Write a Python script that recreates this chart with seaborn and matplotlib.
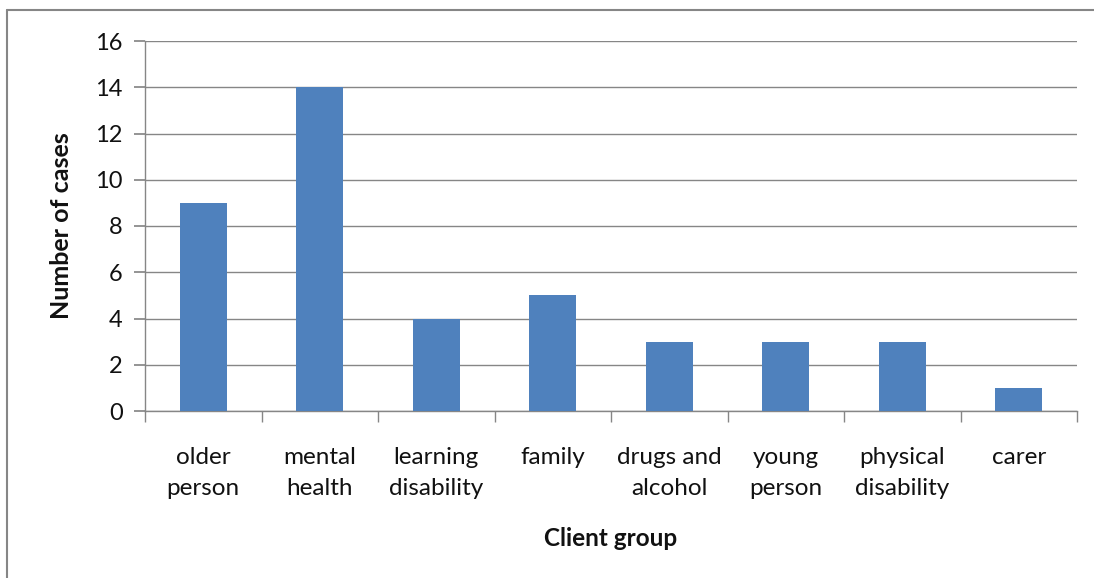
import matplotlib
matplotlib.use("Agg")
import matplotlib.pyplot as plt
import seaborn as sns
import pandas as pd
from matplotlib.lines import Line2D

categories = ["older\nperson", "mental\nhealth", "learning\ndisability", "family",
              "drugs and\nalcohol", "young\nperson", "physical\ndisability", "carer"]
cases = [9, 14, 4, 5, 3, 3, 3, 1]
y_ticks = [0, 2, 4, 6, 8, 10, 12, 14, 16]

sns.set_theme(style="white")
plt.rcParams['font.family'] = ['Lato', 'DejaVu Sans']

fig = plt.figure(figsize=(10.94, 5.78), dpi=100)
ax = fig.add_axes([145/1094, 1 - 411/578, (1077-145)/1094, (411-41)/578])

df = pd.DataFrame({"group": categories, "cases": cases})
sns.barplot(data=df, x="group", y="cases", color="#4F81BD", saturation=1,
            width=0.40, ax=ax, zorder=3, linewidth=0)

ax.set_ylim(0, 16)
ax.set_xlim(-0.5, len(categories) - 0.5)
ax.set_yticks(y_ticks)
ax.yaxis.grid(True, color="#868686", linewidth=1, zorder=0)
ax.set_axisbelow(True)

for s in ["top", "right"]:
    ax.spines[s].set_visible(False)
for s in ["left", "bottom"]:
    ax.spines[s].set_color("#868686")
    ax.spines[s].set_linewidth(1)

ax.tick_params(axis="y", which="major", left=True, length=8, color="#868686",
               labelsize=17, labelcolor="#111111", pad=8)
ax.tick_params(axis="x", which="major", bottom=False, labelsize=17.5,
               labelcolor="#111111", pad=20)
ax.set_xticks(range(len(categories)))
ax.set_xticklabels(categories, linespacing=1.6)
ax.set_xticks([i - 0.5 for i in range(len(categories) + 1)], minor=True)
ax.tick_params(axis="x", which="minor", bottom=True, length=8, color="#868686")

ax.set_xlabel("Client group", fontsize=17.5, fontweight="bold", labelpad=20, color="#111111")
ax.set_ylabel("Number of cases", fontsize=18, fontweight="bold", labelpad=16, color="#111111")

# chart-area border (left and top visible)
fig.add_artist(Line2D([7/1094, 7/1094], [0, 1 - 10/578], transform=fig.transFigure,
                      color="#868686", linewidth=1.5))
fig.add_artist(Line2D([7/1094, 1], [1 - 10/578, 1 - 10/578], transform=fig.transFigure,
                      color="#868686", linewidth=1.5))

fig.savefig("out.png", dpi=100)
